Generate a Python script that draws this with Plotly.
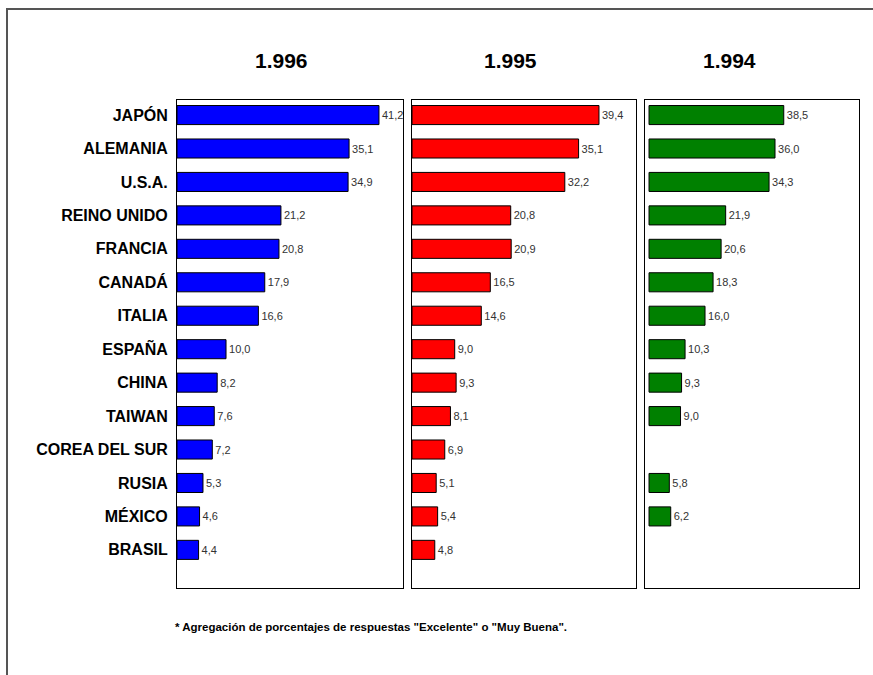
import plotly.graph_objects as go

# Countries, top to bottom
paises = ["JAPÓN", "ALEMANIA", "U.S.A.", "REINO UNIDO", "FRANCIA", "CANADÁ",
          "ITALIA", "ESPAÑA", "CHINA", "TAIWAN", "COREA DEL SUR", "RUSIA",
          "MÉXICO", "BRASIL"]

# Percentages per year ("Excelente" + "Muy Buena")
valores_1996 = [41.2, 35.1, 34.9, 21.2, 20.8, 17.9, 16.6, 10.0, 8.2, 7.6, 7.2, 5.3, 4.6, 4.4]
valores_1995 = [39.4, 35.1, 32.2, 20.8, 20.9, 16.5, 14.6, 9.0, 9.3, 8.1, 6.9, 5.1, 5.4, 4.8]
valores_1994 = [38.5, 36.0, 34.3, 21.9, 20.6, 18.3, 16.0, 10.3, 9.3, 9.0, None, 5.8, 6.2, None]

anios = ["1.996", "1.995", "1.994"]
colores = ["#0000FF", "#FF0000", "#008000"]

W, H = 873, 675
NARROW = "Liberation Sans Narrow, Arial Narrow, Liberation Sans, Arial, sans-serif"


def px(x):
    return x / W


def py(y):
    return 1 - y / H


# panel geometry (pixels): left, right; x-axis ranges
paneles = [(177, 403, [0, 46.1]), (412, 636, [0, 47.2]), (645, 859, [-1.15, 60])]
y_top, y_bot = 100, 588
y_range = [14.14, -0.45]

fig = go.Figure()
series = [valores_1996, valores_1995, valores_1994]

layout_axes = {}
for i, (vals, color, (x0, x1, xr)) in enumerate(zip(series, colores, paneles)):
    n = "" if i == 0 else str(i + 1)
    fig.add_trace(go.Bar(
        y=paises, x=vals, orientation="h",
        marker=dict(color=color, line=dict(color="black", width=1)),
        texttemplate="%{x:.1f}", textposition="outside",
        textfont=dict(family=NARROW, size=11, color="#333333"),
        cliponaxis=False,
        xaxis="x" + n, yaxis="y" + n, showlegend=False,
    ))
    layout_axes["xaxis" + n] = dict(
        domain=[px(x0), px(x1)], range=xr, anchor="y" + n,
        showgrid=False, zeroline=False, showticklabels=False, ticks="",
        showline=True, mirror=True, linecolor="black", linewidth=1,
    )
    layout_axes["yaxis" + n] = dict(
        domain=[py(y_bot), py(y_top)], anchor="x" + n,
        type="category", categoryorder="array", categoryarray=paises,
        range=y_range, showgrid=False, zeroline=False, ticks="",
        showticklabels=(i == 0), ticklabelstandoff=5,
        tickfont=dict(family=NARROW, size=16, color="black", weight="bold"),
        showline=True, mirror=True, linecolor="black", linewidth=1,
    )

fig.update_layout(**layout_axes)

# year titles above each panel
for anio, cx in zip(anios, [281, 510, 729]):
    fig.add_annotation(
        x=px(cx), y=py(60), xref="paper", yref="paper", text=anio,
        showarrow=False, xanchor="center", yanchor="middle",
        font=dict(family=NARROW, size=21, color="black", weight="bold"),
    )

# footnote
fig.add_annotation(
    x=px(173), y=py(627), xref="paper", yref="paper",
    text='* Agregación de porcentajes de respuestas "Excelente" o "Muy Buena".',
    showarrow=False, xanchor="left", yanchor="middle",
    font=dict(family=NARROW, size=11.5, color="black", weight="bold"),
)

# outer frame
fig.add_shape(type="rect", xref="paper", yref="paper",
              x0=px(7), x1=px(W + 20), y0=py(H + 20), y1=py(9),
              line=dict(color="#555555", width=2), fillcolor="rgba(0,0,0,0)")

fig.update_layout(
    width=W, height=H,
    margin=dict(l=0, r=0, t=0, b=0),
    paper_bgcolor="white", plot_bgcolor="white",
    bargap=0.43, separators=",.",
)

fig.write_html("out.html")
